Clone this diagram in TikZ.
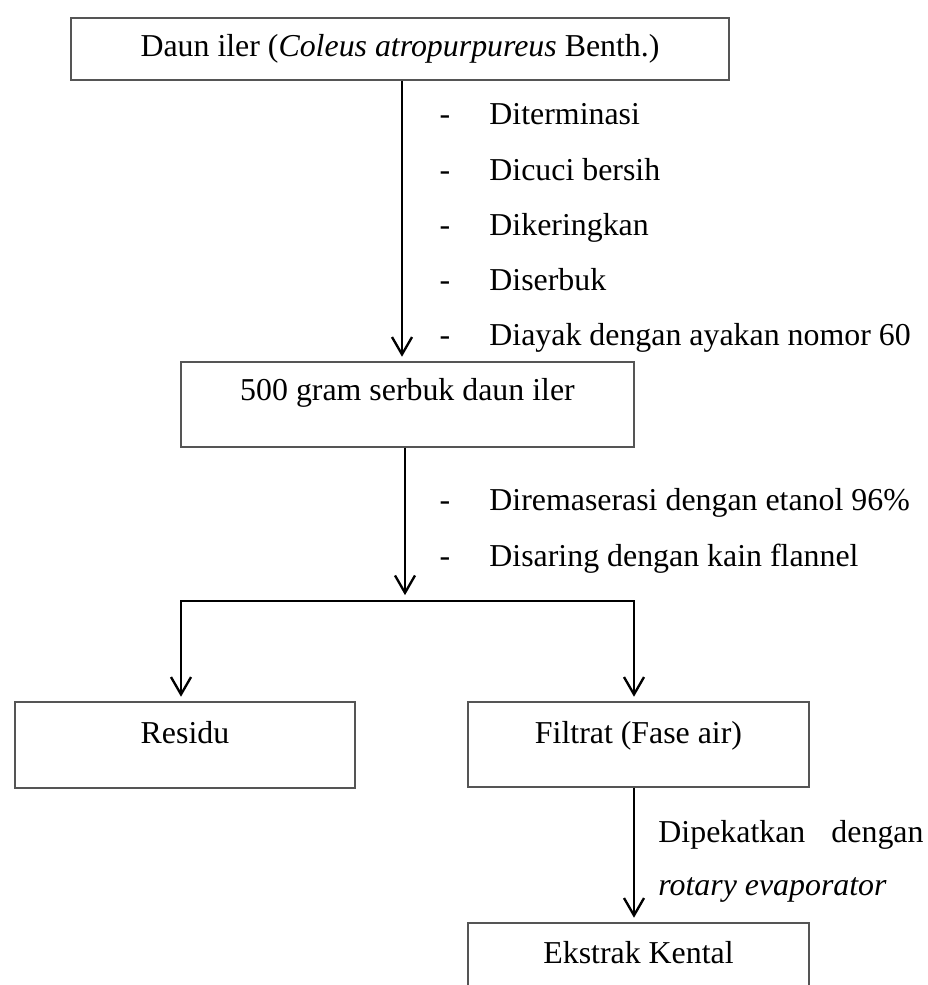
\documentclass[tikz,border=0pt]{standalone}
\usepackage{fontspec}
\setmainfont{Liberation Serif}
\usetikzlibrary{arrows.meta,positioning,calc}
\definecolor{edge}{HTML}{555555}
\newcommand{\fsz}{\fontsize{13.6}{16}\selectfont}
\tikzset{
  box/.style={draw=edge, line width=0.5pt, inner sep=0pt},
  flow/.style={-{Straight Barb[length=2.6mm, width=3mm, line width=1pt]}, line width=1pt},
  lbl/.style={anchor=base, inner sep=0pt, font=\fsz},
  proc/.style={anchor=base west, inner sep=0pt, font=\fsz},
  bullet/.style={anchor=base, inner sep=0pt, font=\fsz},
}

\begin{document}
\begin{tikzpicture}[x=0.015cm, y=-0.015cm]
  \useasboundingbox (0,0) rectangle (927,985);
  \clip (0,0) rectangle (927,985);
  % boxes
  \node[box, minimum width=9.87cm, minimum height=0.93cm] (daun) at (400,49) {};
  \node[box, minimum width=6.795cm, minimum height=1.275cm] (serbuk) at (407.5,404.5) {};
  \node[box, minimum width=5.1cm, minimum height=1.29cm] (residu) at (185,745) {};
  \node[box, minimum width=5.115cm, minimum height=1.275cm] (filtrat) at (638.5,744.5) {};
  \node[box, minimum width=5.115cm, minimum height=1.275cm] (ekstrak) at (638.5,965.5) {};
  \node[lbl] (tdaun) at (400,57) {Daun iler (\textit{Coleus atropurpureus} Benth.)};
  \node[lbl] (tserbuk) at (407.5,400) {500 gram serbuk daun iler};
  \node[lbl] (tresidu) at (185,743) {Residu};
  \node[lbl] (tfiltrat) at (638.5,743) {Filtrat (Fase air)};
  \node[lbl] (tekstrak) at (638.5,963) {Ekstrak Kental};
  % connectors
  \coordinate (a1) at (402,0);
  \coordinate (split) at (405,601);
  \coordinate (jl) at (181,0);
  \coordinate (jr) at (634,0);
  \draw[flow, shorten >=2pt] (daun.south -| a1) -- (serbuk.north -| a1);
  \draw[flow, shorten >=2.5pt] (serbuk.south -| split) -- (split);
  \draw[flow, shorten >=2pt] (split) -| (residu.north -| jl);
  \draw[flow, shorten >=2pt] (split) -| (filtrat.north -| jr);
  \draw[flow, shorten >=2pt] (filtrat.south -| jr) -- (ekstrak.north -| jr);
  % steps
  \foreach \txt [count=\i] in {Diterminasi, Dicuci bersih, Dikeringkan, Diserbuk, Diayak dengan ayakan nomor 60} {
    \node[bullet] (d\i) at ({445},{125+55*(\i-1)}) {-};
    \node[proc] (p\i) at ({489},{125+55*(\i-1)}) {\txt};
  }
  \node[bullet] (m1) at (445,510) {-};
  \node[proc] (q1) at (489,510) {Diremaserasi dengan etanol 96\%};
  \node[bullet] (m2) at (445,566) {-};
  \node[proc] (q2) at (489,566) {Disaring dengan kain flannel};
  \node[proc] (r1) at (658,842) {\makebox[3.975cm][s]{Dipekatkan dengan}};
  \node[proc] (r2) at (658,895) {\textit{rotary evaporator}};
\end{tikzpicture}
\end{document}
